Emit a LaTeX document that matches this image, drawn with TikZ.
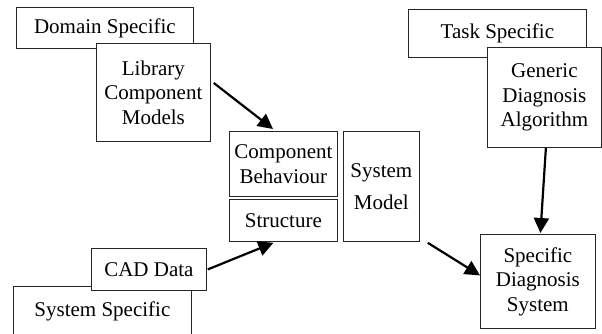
\documentclass[tikz,border=0pt]{standalone}
\usepackage{fontspec}
\setmainfont{Liberation Serif}
\usetikzlibrary{arrows.meta}
\begin{document}
\begin{tikzpicture}[x=1pt,y=-1pt,
  box/.style={draw=black!85, line width=0.8pt, fill=white, inner sep=0pt,
    anchor=north west, align=center,
    font=\fontsize{21}{24.5}\selectfont},
  arr/.style={line width=2.2pt, -{Triangle[length=15pt,width=15pt]}}
]
\clip (0,0) rectangle (602,333);
\fill[white] (0,0) rectangle (602,333);
% top-left group
\node[box, minimum width=177pt, minimum height=41pt] (dom) at (16,7) {Domain Specific};
\node[box, minimum width=114pt, minimum height=98pt] (lib) at (96,43) {Library\\Component\\Models};
% top-right group
\node[box, minimum width=178pt, minimum height=48pt] (task) at (408,9) {Task Specific};
\node[box, minimum width=114pt, minimum height=100pt] (gen) at (487,47) {Generic\\Diagnosis\\Algorithm};
% middle
\node[box, minimum width=108pt, minimum height=65pt] (comp) at (229,131) {Component\\Behaviour};
\node[box, minimum width=108pt, minimum height=42pt] (struct) at (229,199) {Structure};
\node[box, minimum width=76pt, minimum height=110pt] (sysm) at (343,131) {System\\[8pt]Model};
% right bottom
\node[box, minimum width=115pt, minimum height=94pt] (spec) at (480,234) {Specific\\Diagnosis\\System};
% bottom-left group
\node[box, minimum width=178pt, minimum height=49pt] (sys) at (13,286) {System Specific};
\node[box, minimum width=115pt, minimum height=42pt] (cad) at (91,248) {CAD Data};
% arrows
\draw[arr] ([shift={(3,40)}]lib.north east) -- ([shift={(44,-2)}]comp.north west);
\draw[arr] ([shift={(1,0)}]cad.east) -- ([shift={(-10,1)}]struct.south);
\draw[arr] ([shift={(1.5,0)}]gen.south) -- ([shift={(2.5,-1)}]spec.north);
\draw[arr] ([shift={(8,1)}]sysm.south east) -- ([shift={(0,-6)}]spec.west);
\end{tikzpicture}
\end{document}
